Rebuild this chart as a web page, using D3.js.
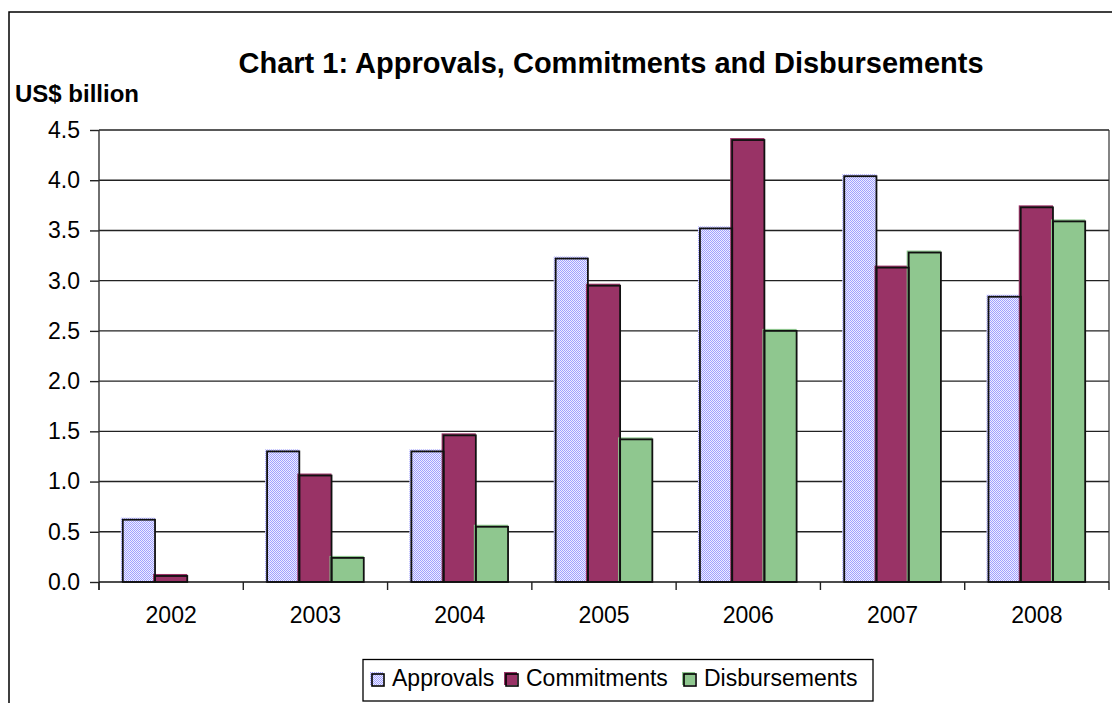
<!DOCTYPE html>
<html>
<head>
<meta charset="utf-8">
<script src="https://cdn.jsdelivr.net/npm/d3@7/dist/d3.min.js"></script>
<style>
html,body{margin:0;padding:0;background:#fff;}
svg{display:block;font-family:"Liberation Sans",Arial,sans-serif;}
</style>
</head>
<body>
<svg id="chart" width="1112" height="703"></svg>
<script>
const years = ["2002","2003","2004","2005","2006","2007","2008"];
const seriesNames = ["Approvals","Commitments","Disbursements"];
const approvals = [0.62,1.30,1.30,3.22,3.52,4.04,2.84];
const commitments = [0.06,1.06,1.46,2.95,4.40,3.13,3.73];
const disbursements = [0.00,0.24,0.55,1.42,2.50,3.28,3.59];
const yTicks = [0,0.5,1.0,1.5,2.0,2.5,3.0,3.5,4.0,4.5];
const titleText = "Chart 1: Approvals, Commitments and Disbursements";
const yTitle = "US$ billion";

(function(){
const seriesValues = [approvals, commitments, disbursements];
const fills = ["url(#approvalsPat)", "#993366", "#8FC78F"];

const svg = d3.select("#chart");
const defs = svg.append("defs");
const pat = defs.append("pattern").attr("id","approvalsPat")
  .attr("patternUnits","userSpaceOnUse").attr("width",2).attr("height",2);
pat.append("rect").attr("width",2).attr("height",2).attr("fill","#EEEEFF");
pat.append("rect").attr("x",0).attr("y",0).attr("width",1).attr("height",1).attr("fill","#A0A0FF");
pat.append("rect").attr("x",1).attr("y",1).attr("width",1).attr("height",1).attr("fill","#A0A0FF");

// outer frame
svg.append("rect").attr("x",9).attr("y",12).attr("width",1200).attr("height",800)
  .attr("fill","none").attr("stroke","#000").attr("stroke-width",1.5);

const pl = 99, pr = 1109, pt = 130, pb = 582;

const y = d3.scaleLinear().domain([0,4.5]).range([pb, pt]);
const x0 = d3.scaleBand().domain(years).range([pl, pr]).paddingInner(0.33).paddingOuter(0.165);
const x1 = d3.scaleBand().domain(seriesNames).range([0, x0.bandwidth()]).padding(0);

// gridlines
svg.append("g").selectAll("line").data(yTicks.filter(d=>d>0)).join("line")
  .attr("x1",pl).attr("x2",pr).attr("y1",d=>y(d)).attr("y2",d=>y(d))
  .attr("stroke","#222").attr("stroke-width",1.4);

// plot right border
svg.append("line").attr("x1",pr).attr("x2",pr).attr("y1",pt).attr("y2",pb)
  .attr("stroke","#333").attr("stroke-width",1.2);

// bars
const data = [];
years.forEach((yr,i)=>{
  seriesNames.forEach((s,j)=>{
    data.push({year:yr, series:s, value:seriesValues[j][i], fill:fills[j]});
  });
});
const barG = svg.append("g");
const bars = data.filter(d=>d.value>0);
barG.selectAll("rect.fill").data(bars).join("rect").attr("class","fill")
  .attr("x",d=>x0(d.year)+x1(d.series)-2)
  .attr("y",d=>y(d.value)-2)
  .attr("width",x1.bandwidth()+2)
  .attr("height",d=>pb-y(d.value)+2)
  .attr("fill",d=>d.fill);
barG.selectAll("rect.edge").data(bars).join("rect").attr("class","edge")
  .attr("x",d=>x0(d.year)+x1(d.series))
  .attr("y",d=>y(d.value))
  .attr("width",x1.bandwidth())
  .attr("height",d=>pb-y(d.value))
  .attr("fill","none").attr("stroke","#111").attr("stroke-width",1.8);

// y axis
const yAxis = d3.axisLeft(y).tickValues(yTicks).tickFormat(d3.format(".1f")).tickSize(9).tickPadding(10);
const yg = svg.append("g").attr("transform",`translate(${pl},0)`).call(yAxis);
yg.select(".domain").remove();
yg.selectAll(".tick line").attr("stroke","#222").attr("stroke-width",1.4);
yg.selectAll(".tick text").attr("font-size",23).attr("fill","#000")
  .attr("font-family","'Liberation Sans',Arial,sans-serif");
svg.append("line").attr("x1",pl).attr("x2",pl).attr("y1",pt).attr("y2",pb+8)
  .attr("stroke","#333").attr("stroke-width",1.4);

// x axis
svg.append("line").attr("x1",pl).attr("x2",pr).attr("y1",pb).attr("y2",pb)
  .attr("stroke","#111").attr("stroke-width",1.6);
const step = x0.step();
const bounds = years.map(yr=>x0(yr)-step*x0.paddingInner()/2).concat([x0(years[years.length-1])+x0.bandwidth()+step*x0.paddingInner()/2]);
svg.append("g").selectAll("line").data(bounds).join("line")
  .attr("x1",d=>d).attr("x2",d=>d).attr("y1",pb).attr("y2",pb+8)
  .attr("stroke","#222").attr("stroke-width",1.4);
svg.append("g").selectAll("text").data(years).join("text")
  .attr("x",d=>x0(d)+x0.bandwidth()/2).attr("y",623)
  .attr("text-anchor","middle").attr("font-size",23).attr("fill","#000").text(d=>d);

// titles
svg.append("text").attr("x",611).attr("y",73).attr("text-anchor","middle")
  .attr("font-size",29).attr("font-weight","bold").attr("fill","#000").text(titleText);
svg.append("text").attr("x",15).attr("y",102).attr("font-size",24)
  .attr("font-weight","bold").attr("fill","#000").text(yTitle);

// legend
const lg = svg.append("g");
lg.append("rect").attr("x",363).attr("y",659.5).attr("width",510).attr("height",41.5)
  .attr("fill","#fff").attr("stroke","#000").attr("stroke-width",1.3);
const legendX = [372, 506, 684];
seriesNames.forEach((s,j)=>{
  const g = lg.append("g").attr("transform",`translate(${legendX[j]},674)`);
  g.append("rect").attr("x",-2).attr("y",-2).attr("width",13).attr("height",13).attr("fill",fills[j]);
  g.append("rect").attr("x",0).attr("y",0).attr("width",12).attr("height",12)
    .attr("fill","none").attr("stroke","#000").attr("stroke-width",1.6);
  g.append("text").attr("x",20).attr("y",12).attr("font-size",23).attr("fill","#000").text(s);
});
})();
</script>
</body>
</html>
